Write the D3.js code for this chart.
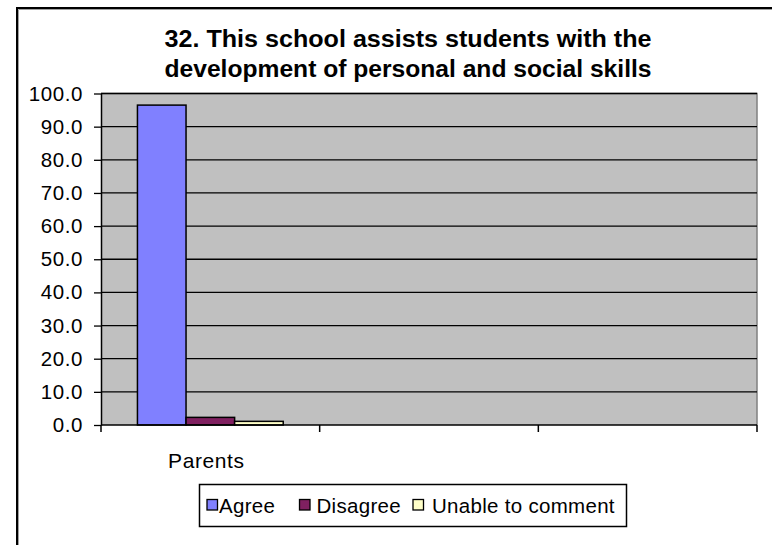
<!DOCTYPE html>
<html><head><meta charset="utf-8">
<script src="https://cdn.jsdelivr.net/npm/d3@7"></script>
<style>body{margin:0;background:#fff;}svg{display:block;font-family:Arial,"Liberation Sans",sans-serif;}</style>
</head><body>
<svg id="c" width="772" height="545"></svg>
<script>
const titleLines = ["32. This school assists students with the", "development of personal and social skills"];
const categories = ["Parents", "", ""];
const seriesNames = ["Agree", "Disagree", "Unable to comment"];
const seriesColors = ["#8080FF", "#802060", "#FFFFC8"];
const agreeValues = [96.5, null, null];
const disagreeValues = [2.3, null, null];
const unableValues = [1.1, null, null];
const yTicks = [0,10,20,30,40,50,60,70,80,90,100];

const seriesValues = [agreeValues, disagreeValues, unableValues];
const svg = d3.select("#c");

// outer frame
svg.append("rect").attr("x",17).attr("y",8).attr("width",800).attr("height",600)
  .attr("fill","#fff").attr("stroke","#000").attr("stroke-width",2);
svg.append("path").attr("d","M18.5,600 V9.5 H800").attr("fill","none").attr("stroke","#a0a0a0").attr("stroke-width",1);

const L=101, R=757, T=93.5, B=425;
const x = d3.scaleBand().domain(d3.range(categories.length)).range([L,R]).paddingInner(0).paddingOuter(0);
const y = d3.scaleLinear().domain([0,100]).range([B,T]);

svg.append("rect").attr("x",L).attr("y",T).attr("width",R-L).attr("height",B-T).attr("fill","#C0C0C0");
svg.append("path").attr("d",`M${L},${T} H${R} V${B}`).attr("fill","none").attr("stroke","#808080").attr("stroke-width",1.5);

// gridlines
svg.append("g").selectAll("line").data(yTicks.filter(d=>d>0)).join("line")
  .attr("x1",L).attr("x2",R).attr("y1",d=>y(d)).attr("y2",d=>y(d))
  .attr("stroke","#000").attr("stroke-width",1.3);

// bars
const gap = 1.5;
const bw = x.bandwidth()/(seriesNames.length+gap);
seriesValues.forEach((vals,si)=>{
  svg.append("g").selectAll("rect").data(vals.map((v,i)=>({v,i})).filter(d=>d.v!=null)).join("rect")
    .attr("x",d=>x(d.i)+bw*gap/2+si*bw).attr("width",bw)
    .attr("y",d=>y(d.v)).attr("height",d=>B-y(d.v))
    .attr("fill",seriesColors[si]).attr("stroke","#000").attr("stroke-width",1.5);
});

// y axis
const yAxis = d3.axisLeft(y).tickValues(yTicks).tickFormat(d3.format(".1f")).tickSize(7).tickSizeOuter(0);
const ya = svg.append("g").attr("transform",`translate(${L},0)`).call(yAxis);
ya.select(".domain").attr("stroke","#000").attr("stroke-width",1.5);
ya.selectAll(".tick line").attr("stroke","#000").attr("stroke-width",1.3);
ya.selectAll(".tick text").attr("x",-18).attr("font-size",20.5).attr("font-family","Arial, 'Liberation Sans', sans-serif").attr("fill","#000").attr("letter-spacing","0.6px");

// x axis
const xa = svg.append("g").attr("transform",`translate(0,${B})`);
xa.append("line").attr("x1",L).attr("x2",R).attr("stroke","#000").attr("stroke-width",1.5);
const bounds = d3.range(categories.length+1).map(i=> i<categories.length ? x(i) : R);
xa.selectAll("line.t").data(bounds).join("line").attr("class","t")
  .attr("x1",d=>d).attr("x2",d=>d).attr("y1",0).attr("y2",7).attr("stroke","#000").attr("stroke-width",1.5);
xa.selectAll("text").data(categories).join("text")
  .attr("x",(d,i)=>x(i)+x.bandwidth()/2-4).attr("y",43).attr("text-anchor","middle")
  .attr("font-size",21).attr("letter-spacing","0.6px").text(d=>d);

// title
svg.append("g").selectAll("text").data(titleLines).join("text")
  .attr("x",408).attr("y",(d,i)=>47+i*30).attr("text-anchor","middle")
  .attr("font-size",23.5).attr("font-weight","bold").attr("textLength",487).attr("lengthAdjust","spacingAndGlyphs").text(d=>d);

// legend
const lg = svg.append("g");
lg.append("rect").attr("x",199.5).attr("y",484.5).attr("width",427).attr("height",42).attr("fill","#fff").attr("stroke","#000").attr("stroke-width",1.5);
const legX = [207, 299.5, 413];
const legTextX = [219, 316.5, 432];
seriesNames.forEach((n,i)=>{
  lg.append("rect").attr("x",legX[i]).attr("y",499.5).attr("width",10.5).attr("height",10.5)
    .attr("fill",seriesColors[i]).attr("stroke","#000").attr("stroke-width",1.3);
  lg.append("text").attr("x",legTextX[i]).attr("y",512.5).attr("font-size",20.5).attr("letter-spacing","0.3px").text(n);
});
</script>
</body></html>
